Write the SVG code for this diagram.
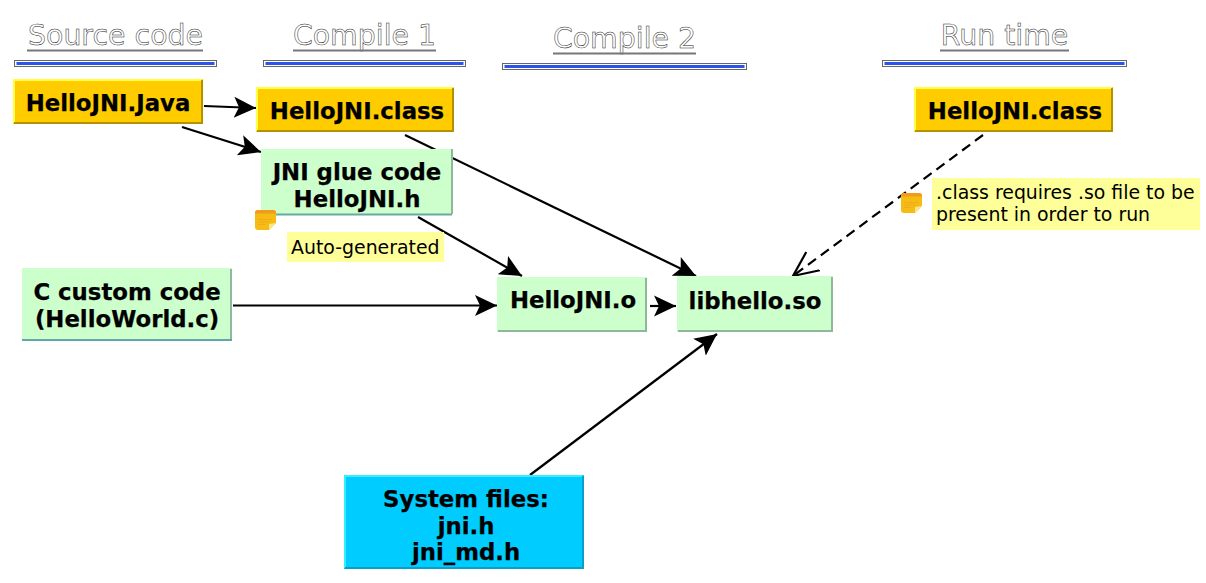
<svg xmlns="http://www.w3.org/2000/svg" width="1206" height="583" viewBox="0 0 1206 583">
<style>
text{font-family:"DejaVu Sans",sans-serif}
.t{font-size:22.8px;font-weight:bold;text-anchor:middle;fill:#000;stroke:#000;stroke-width:.25px}
.h{font-size:28.4px;fill:#fff;stroke:#222;stroke-width:.5px;text-anchor:middle;opacity:.99}
.n{font-size:18.9px;fill:#000}
.u{fill:none;stroke:#777;stroke-width:2}
.bar{fill:#fff;stroke:#666;stroke-width:1}
.barin{fill:#2a55e8}
.c{fill:none;stroke:#000;stroke-width:2.2}
.d{stroke-dasharray:10 6}
.nb{fill:#ffff99}
.hi{fill:none;stroke-width:2}
</style>
<defs>
<marker id="a" markerUnits="userSpaceOnUse" markerWidth="26" markerHeight="28" refX="22" refY="14" orient="auto"><path d="M0 3.500L22 14L0 24.500L5 14Z" fill="#000"/></marker>
<marker id="o" markerUnits="userSpaceOnUse" markerWidth="30" markerHeight="32" refX="25" refY="15" orient="auto"><path d="M0 3.600L25 15L0 26.400" fill="none" stroke="#000" stroke-width="2.200"/></marker>
<g id="sticky"><path d="M0 3Q0 0 3 0H18Q21 0 21 3V13L14 20H3Q0 20 0 17Z" fill="#f5bd14"/><path d="M0 3Q0 0 3 0H18Q21 0 21 3V3.500H0Z" fill="#f39a1a"/><path d="M3 9.500H17M3 12H15M3 14.500H10" stroke="#f0a020" stroke-width=".7"/><path d="M21 13L14 20V14Z" fill="#fce48a"/></g>
</defs>
<g id="connectors">
<path class="c" marker-end="url(#a)" d="M204 106L256 108"/>
<path class="c" marker-end="url(#a)" d="M182 127L261 152"/>
<path class="c" marker-end="url(#a)" d="M405 135L696 276"/>
<path class="c" marker-end="url(#a)" d="M418 217L522 276"/>
<path class="c" marker-end="url(#a)" d="M233 305.500L497 305.500"/>
<path class="c" marker-end="url(#a)" d="M650 306L676 306"/>
<path class="c" marker-end="url(#a)" d="M530 475L717 334"/>
<path class="c d" marker-end="url(#o)" d="M983 135L793 276"/>
</g>
<g id="h1"><text class="h" x="115.500" y="45">Source code</text><path class="u" d="M27 50.500H203"/><rect class="bar" x="14.500" y="60.500" width="202" height="6"/><rect class="barin" x="16.500" y="62" width="198" height="3"/></g>
<g id="h2"><text class="h" x="364.500" y="45">Compile 1</text><path class="u" d="M293 50.500H436"/><rect class="bar" x="263.500" y="60.500" width="202" height="6"/><rect class="barin" x="265.500" y="62" width="198" height="3"/></g>
<g id="h3"><text class="h" x="624.500" y="48">Compile 2</text><path class="u" d="M553 53.500H696"/><rect class="bar" x="502.500" y="63.500" width="244" height="6"/><rect class="barin" x="504.500" y="65" width="240" height="3"/></g>
<g id="h4"><text class="h" x="1004.500" y="45">Run time</text><path class="u" d="M940 50.500H1069"/><rect class="bar" x="882.500" y="60.500" width="244" height="6"/><rect class="barin" x="884.500" y="62" width="240" height="3"/></g>
<g id="n1"><rect x="13" y="79" width="190" height="45" fill="#fc0"/><path class="hi" d="M14 123V80H202" stroke="#ffff44"/><path class="hi" d="M14 123H202V80" stroke="#b39100"/><text class="t" x="108" y="111">HelloJNI.Java</text></g>
<g id="n2"><rect x="256" y="87" width="198" height="45" fill="#fc0"/><path class="hi" d="M257 131V88H453" stroke="#ffff44"/><path class="hi" d="M257 131H453V88" stroke="#b39100"/><text class="t" x="357" y="119">HelloJNI.class</text></g>
<g id="n3"><rect x="261" y="149" width="191" height="66" fill="#cfc"/><path class="hi" d="M452 149V214" stroke="#8fb89a"/><path class="hi" d="M261 214.500H452" stroke="#6aa8a8"/><text class="t" x="357" y="180">JNI glue code</text><text class="t" x="357" y="207">HelloJNI.h</text></g>
<g id="n4"><rect x="22" y="268" width="210" height="73" fill="#cfc"/><path class="hi" d="M231 269V340" stroke="#8fb8a0"/><path class="hi" d="M22 340H232" stroke="#5fa8a8"/><text class="t" x="127" y="300">C custom code</text><text class="t" x="127" y="327">(HelloWorld.c)</text></g>
<g id="n5"><rect x="497" y="277" width="150" height="55" fill="#cfc"/><path class="hi" d="M498 331H646V278" stroke="#8fb89a"/><text class="t" x="573" y="308">HelloJNI.o</text></g>
<g id="n6"><rect x="677" y="276" width="156" height="56" fill="#cfc"/><path class="hi" d="M678 331H832V277" stroke="#8fb89a"/><text class="t" x="755" y="309">libhello.so</text></g>
<g id="n7"><rect x="344" y="475" width="240" height="94" fill="#0cf"/><path class="hi" d="M345 568V476H583" stroke="#33eeff"/><path class="hi" d="M345 568H583V476" stroke="#0a9fc8"/><text class="t" x="466" y="507">System files:</text><text class="t" x="466" y="534">jni.h</text><text class="t" x="466" y="560">jni_md.h</text></g>
<g id="n8"><rect x="914" y="87" width="199" height="45" fill="#fc0"/><path class="hi" d="M915 131V88H1112" stroke="#ffff44"/><path class="hi" d="M915 131H1112V88" stroke="#b39100"/><text class="t" x="1015" y="119">HelloJNI.class</text></g>
<g id="note1"><rect class="nb" x="287" y="232" width="157" height="30"/><text class="n" x="291" y="254">Auto-generated</text><use href="#sticky" x="255" y="210"/></g>
<g id="note2"><rect class="nb" x="932" y="178" width="268" height="52"/><text class="n" x="936" y="199">.class requires .so file to be</text><text class="n" x="936" y="221">present in order to run</text><use href="#sticky" x="901" y="193"/></g>
</svg>
